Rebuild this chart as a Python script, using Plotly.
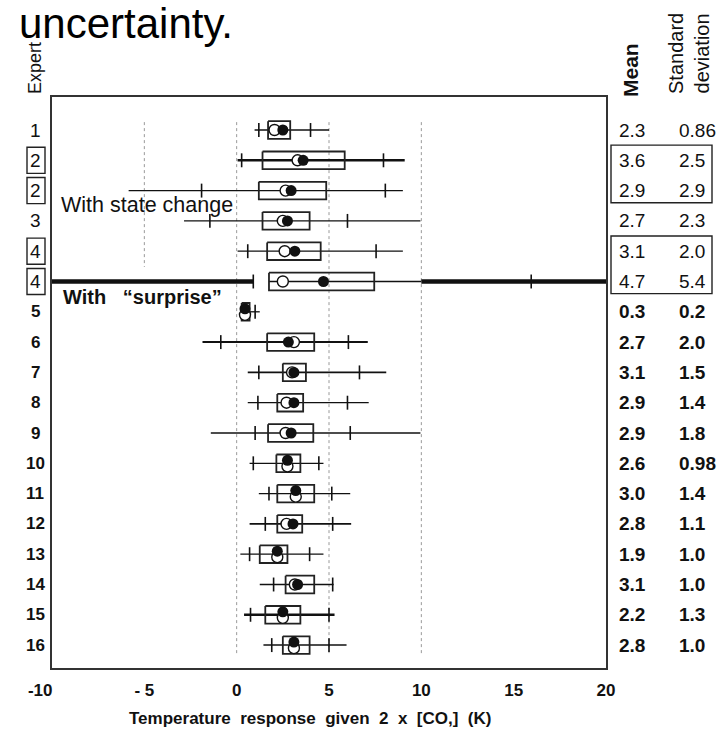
import plotly.graph_objects as go

# ---------------- data ----------------
experts = ["1", "2", "2", "3", "4", "4", "5", "6", "7", "8", "9", "10",
           "11", "12", "13", "14", "15", "16"]
boxed_label = [False, True, True, False, True, True] + [False] * 12
range_lo = [0.97, 0.05, -5.85, -2.85, 0.05, 1.75, 0.27, -1.85, 0.6, 0.6,
            -1.4, 0.7, 1.2, 0.7, 0.2, 1.25, 0.4, 1.45]
range_hi = [5.0, 9.1, 9.0, 9.95, 9.0, 10.0, 1.25, 7.1, 8.1, 7.15, 9.95,
            4.7, 6.15, 6.2, 4.7, 5.25, 5.3, 5.95]
p05 = [1.2, 0.27, -1.9, -1.45, 0.6, 0.9, None, -0.86, 1.2, 1.15, 1.0,
       0.9, 1.75, 1.55, 0.7, 2.0, 0.75, 1.9]
p95 = [4.0, 7.95, 8.05, 6.0, 7.55, 15.95, 1.0, 6.05, 6.65, 6.0, 6.15,
       4.45, 5.15, 5.2, 3.95, 5.2, 5.0, 5.0]
q25 = [1.7, 1.4, 1.2, 1.4, 1.65, 1.75, 0.27, 1.65, 2.5, 2.2, 1.7, 2.15,
       2.2, 2.2, 1.25, 2.65, 1.55, 2.5]
q75 = [2.9, 5.85, 4.85, 3.95, 4.55, 7.45, 0.7, 4.2, 3.75, 3.6, 4.15, 3.45,
       4.2, 3.55, 2.75, 4.2, 3.45, 3.95]
median = [2.05, 3.3, 2.65, 2.5, 2.6, 2.5, 0.45, 3.1, 3.0, 2.7, 2.65, 2.75,
          3.2, 2.7, 2.2, 3.15, 2.5, 3.1]
mean_pos = [2.5, 3.6, 2.95, 2.75, 3.15, 4.7, 0.45, 2.8, 3.1, 3.1, 2.95,
            2.75, 3.2, 3.05, 2.2, 3.3, 2.5, 3.1]
line_w = [1.3, 2.6, 1.3, 1.3, 1.3, 1.3, 1.3, 2.0, 1.8, 1.3, 1.3, 1.3,
          1.3, 1.8, 1.3, 1.5, 2.6, 1.5]
# "surprise" row: heavy tails beyond the plotted range
surprise_row = 5
surprise_tails = [(-10.0, 0.9), (10.0, 20.0)]

mean_txt = ["2.3", "3.6", "2.9", "2.7", "3.1", "4.7", "0.3", "2.7", "3.1",
            "2.9", "2.9", "2.6", "3.0", "2.8", "1.9", "3.1", "2.2", "2.8"]
sd_txt = ["0.86", "2.5", "2.9", "2.3", "2.0", "5.4", "0.2", "2.0", "1.5",
          "1.4", "1.8", "0.98", "1.4", "1.1", "1.0", "1.0", "1.3", "1.0"]
table_groups = [(1, 2), (4, 5)]

x_ticks = [-10, -5, 0, 5, 10, 15, 20]
x_ticktext = ["-10\u00a0\u00a0\u00a0\u00a0\u00a0", "- 5", "0", "5", "10", "15", "20"]
grid_full = [0, 5, 10]
grid_short = [-5]

# ---------------- layout helpers ----------------
W, H = 728, 736
ML, MR, MT, MB = 52, 122, 97, 68
PW, PH = W - ML - MR, H - MT - MB
ROW0, ROWSTEP = 130.0, 30.3
y_top = (MT - ROW0) / ROWSTEP
y_bot = (H - MB - ROW0) / ROWSTEP


def px(p):
    return (p - ML) / PW


def py(p):
    return (H - MB - p) / PH


SANS = "Liberation Sans, Arial, sans-serif"
INK = "#111111"
BOX_H = 0.29
TICK_H = 0.23

n = len(experts)
rows = list(range(n))

fig = go.Figure()

# range lines grouped by width
by_w = {}
for i in rows:
    by_w.setdefault(line_w[i], ([], []))
    xs, ys = by_w[line_w[i]]
    xs += [range_lo[i], range_hi[i], None]
    ys += [i, i, None]
for w, (xs, ys) in by_w.items():
    fig.add_trace(go.Scatter(x=xs, y=ys, mode="lines",
                             line=dict(color=INK, width=w),
                             hoverinfo="skip", showlegend=False))
# heavy tails of the surprise row
tx, ty = [], []
for a, b in surprise_tails:
    tx += [a, b, None]
    ty += [surprise_row, surprise_row, None]
fig.add_trace(go.Scatter(x=tx, y=ty, mode="lines",
                         line=dict(color=INK, width=4.5),
                         hoverinfo="skip", showlegend=False))

# percentile ticks
kx, ky = [], []
for i in rows:
    for v in (p05[i], p95[i]):
        if v is None:
            continue
        kx += [v, v, None]
        ky += [i - TICK_H, i + TICK_H, None]
fig.add_trace(go.Scatter(x=kx, y=ky, mode="lines",
                         line=dict(color=INK, width=1.6),
                         hoverinfo="skip", showlegend=False))

# interquartile boxes
bx, by = [], []
for i in rows:
    bx += [q25[i], q75[i], q75[i], q25[i], q25[i], None]
    by += [i - BOX_H, i - BOX_H, i + BOX_H, i + BOX_H, i - BOX_H, None]
fig.add_trace(go.Scatter(x=bx, y=by, mode="lines",
                         line=dict(color="#222222", width=1.8),
                         hoverinfo="skip", showlegend=False))

# open (median) and filled (mean) circles, stacked when nearly equal
oy, fy = [], []
for i in rows:
    if abs(mean_pos[i] - median[i]) < 0.1:
        oy.append(i + 0.1)
        fy.append(i - 0.1)
    else:
        oy.append(i)
        fy.append(i)
fig.add_trace(go.Scatter(x=median, y=oy, mode="markers",
                         marker=dict(symbol="circle", size=11, color="white",
                                     line=dict(color=INK, width=1.4)),
                         hoverinfo="skip", showlegend=False))
fig.add_trace(go.Scatter(x=mean_pos, y=fy, mode="markers",
                         marker=dict(symbol="circle", size=11, color=INK,
                                     line=dict(color=INK, width=0)),
                         hoverinfo="skip", showlegend=False))

shapes = []
for g in grid_full:
    shapes.append(dict(type="line", xref="x", yref="y", x0=g, x1=g,
                       y0=-0.26, y1=17.33,
                       line=dict(color="#999999", width=1, dash="dot"),
                       layer="below"))
for g in grid_short:
    shapes.append(dict(type="line", xref="x", yref="y", x0=g, x1=g,
                       y0=-0.26, y1=4.52,
                       line=dict(color="#999999", width=1, dash="dot"),
                       layer="below"))
for i in rows:
    if boxed_label[i]:
        shapes.append(dict(type="rect", xref="paper", yref="y",
                           x0=px(27), x1=px(45), y0=i - 0.43, y1=i + 0.43,
                           line=dict(color="#222222", width=1.4)))
for a, b in table_groups:
    shapes.append(dict(type="rect", xref="paper", yref="y",
                       x0=px(611), x1=px(712), y0=a - 0.5, y1=b + 0.4,
                       line=dict(color="#222222", width=1.4)))

ann = []
for i in rows:
    bold = i >= 6
    ann.append(dict(x=px(35), y=i, xref="paper", yref="y", showarrow=False,
                    text=("<b>%s</b>" % experts[i]) if bold else experts[i],
                    xanchor="center", yanchor="middle",
                    font=dict(family=SANS, size=17 if bold else 19, color=INK)))
    ann.append(dict(x=px(617), y=i, xref="paper", yref="y", showarrow=False,
                    text=("<b>%s</b>" % mean_txt[i]) if bold else mean_txt[i],
                    xanchor="left", yanchor="middle",
                    font=dict(family=SANS, size=19, color=INK)))
    ann.append(dict(x=px(677), y=i, xref="paper", yref="y", showarrow=False,
                    text=("<b>%s</b>" % sd_txt[i]) if bold else sd_txt[i],
                    xanchor="left", yanchor="middle",
                    font=dict(family=SANS, size=19, color=INK)))

ann += [
    dict(x=px(18), y=py(-1), xref="paper", yref="paper", showarrow=False,
         text="uncertainty.", xanchor="left", yanchor="top", borderpad=0,
         font=dict(family=SANS, size=42, color="black")),
    dict(x=px(35), y=py(68), xref="paper", yref="paper", showarrow=False,
         text="Expert", textangle=-90, xanchor="center", yanchor="middle",
         font=dict(family=SANS, size=18, color=INK)),
    dict(x=px(630), y=py(70), xref="paper", yref="paper", showarrow=False,
         text="<b>Mean</b>", textangle=-90, xanchor="center", yanchor="middle",
         font=dict(family=SANS, size=21, color=INK)),
    dict(x=px(689), y=py(54), xref="paper", yref="paper", showarrow=False,
         text="Standard<br>deviation", textangle=-90, xanchor="center",
         yanchor="middle",
         font=dict(family=SANS, size=20, color=INK)),
    dict(x=px(147), y=py(205), xref="paper", yref="paper", showarrow=False,
         text="With state change", xanchor="center", yanchor="middle",
         font=dict(family=SANS, size=21.5, color=INK)),
    dict(x=px(142), y=py(297), xref="paper", yref="paper", showarrow=False,
         text="<b>With\u00a0\u00a0\u00a0\u201csurprise\u201d</b>",
         xanchor="center", yanchor="middle",
         font=dict(family=SANS, size=20, color=INK)),
    dict(x=px(310), y=py(718), xref="paper", yref="paper", showarrow=False,
         text="<b>Temperature\u00a0 response\u00a0 given\u00a0 2\u00a0 x\u00a0 [CO,]\u00a0 (K)</b>",
         xanchor="center", yanchor="middle",
         font=dict(family=SANS, size=17, color=INK)),
]

fig.update_layout(
    width=W, height=H,
    margin=dict(l=ML, r=MR, t=MT, b=MB, pad=0),
    paper_bgcolor="white", plot_bgcolor="white",
    shapes=shapes, annotations=ann, showlegend=False,
    xaxis=dict(range=[-10, 20], tickvals=x_ticks, ticktext=x_ticktext,
               showgrid=False, zeroline=False, showline=True, mirror=True,
               linecolor="#333333", linewidth=1.6, ticks="",
               tickfont=dict(family=SANS, size=17, color=INK, weight="bold"),
               ticklabelstandoff=6),
    yaxis=dict(range=[y_bot, y_top], showgrid=False, zeroline=False,
               showline=True, mirror=True, linecolor="#333333", linewidth=1.6,
               showticklabels=False, ticks=""),
)

fig.write_html(
    "out.html",
    config={"displayModeBar": False},
    post_script="document.body.style.margin='0';"
                "document.body.style.overflow='hidden';",
)
